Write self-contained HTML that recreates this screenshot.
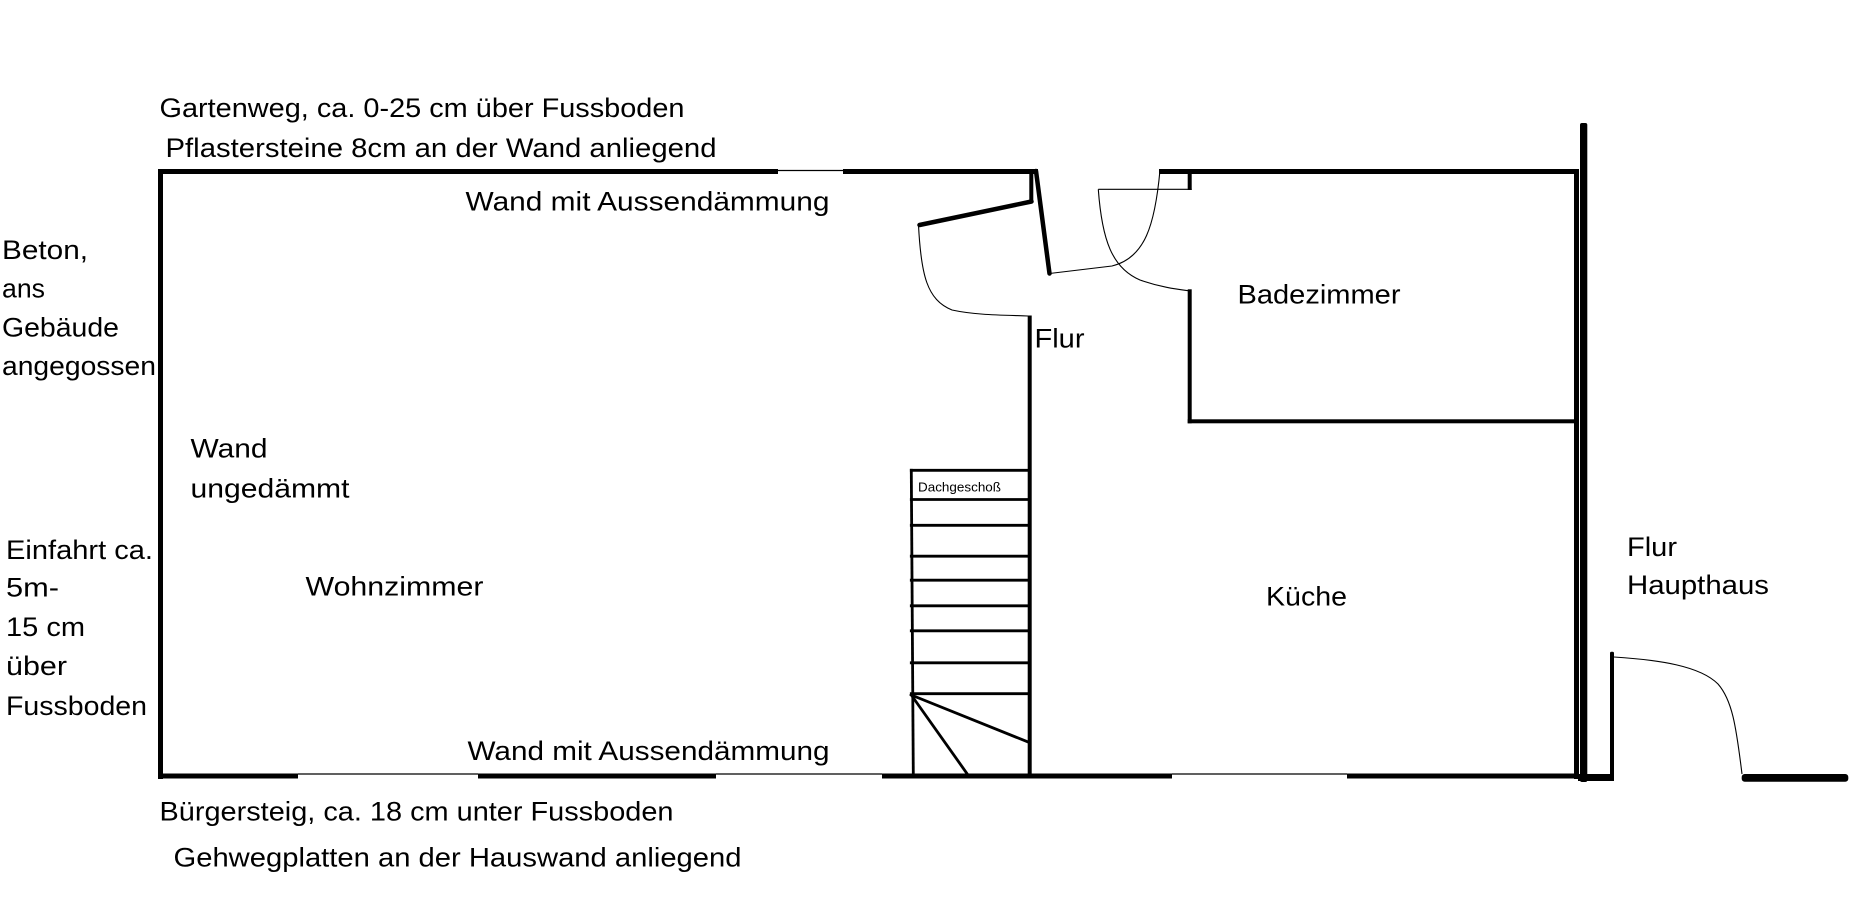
<!DOCTYPE html>
<html>
<head>
<meta charset="utf-8">
<style>
html,body{margin:0;padding:0;background:#fff;}
svg{display:block;}
text{font-family:"Liberation Sans",Arial,sans-serif;font-size:27px;fill:#000;}
</style>
</head>
<body>
<svg width="1850" height="902" viewBox="0 0 1850 902" xmlns="http://www.w3.org/2000/svg">
<rect x="0" y="0" width="1850" height="902" fill="#fff"/>

<!-- Outer walls -->
<!-- top wall -->
<rect x="158" y="169" width="620" height="5" fill="#000"/>
<line x1="778" y1="170.5" x2="843" y2="170.5" stroke="#000" stroke-width="1.2"/>
<rect x="843" y="169" width="195" height="5" fill="#000"/>
<rect x="1159" y="169" width="420" height="5" fill="#000"/>
<!-- left wall -->
<rect x="158" y="169" width="5" height="610" fill="#000"/>
<!-- bottom wall -->
<rect x="158" y="773.5" width="140" height="5" fill="#000"/>
<line x1="298" y1="774" x2="478" y2="774" stroke="#000" stroke-width="1.2"/>
<rect x="478" y="773.5" width="238" height="5" fill="#000"/>
<line x1="716" y1="774" x2="882" y2="774" stroke="#000" stroke-width="1.2"/>
<rect x="882" y="773.5" width="290" height="5" fill="#000"/>
<line x1="1172" y1="774" x2="1347" y2="774" stroke="#000" stroke-width="1.2"/>
<rect x="1347" y="773.5" width="232" height="5" fill="#000"/>

<!-- door area near Flur -->
<rect x="1029.3" y="169" width="4" height="33" fill="#000"/>
<line x1="1031.5" y1="201.5" x2="919.5" y2="225" stroke="#000" stroke-width="4.5" stroke-linecap="round"/>
<line x1="1036" y1="171" x2="1049.5" y2="273.5" stroke="#000" stroke-width="4.5" stroke-linecap="round"/>
<path d="M918.5,225 C921,275 927,300 952,310 C975,315 1000,315 1028,316" fill="none" stroke="#000" stroke-width="1.1"/>
<path d="M1049.5,273.5 L1112,266 C1145,258 1155,225 1160,170" fill="none" stroke="#000" stroke-width="1.1"/>

<!-- Flur wall -->
<rect x="1027.7" y="315.5" width="4" height="460" fill="#000"/>

<!-- bathroom -->
<rect x="1187.7" y="169" width="4" height="21" fill="#000"/>
<line x1="1098.3" y1="189.3" x2="1191.7" y2="189.3" stroke="#000" stroke-width="1.1"/>
<path d="M1098.3,189.3 C1102,240 1112,268 1140,280 C1160,287 1175,289 1188,290.7" fill="none" stroke="#000" stroke-width="1.1"/>
<rect x="1187.7" y="289.3" width="4" height="134" fill="#000"/>
<rect x="1187.7" y="419.3" width="390" height="4" fill="#000"/>

<!-- right walls -->
<rect x="1574" y="169" width="5" height="610" fill="#000"/>
<rect x="1580" y="123" width="7.3" height="659" rx="2" fill="#000"/>
<rect x="1578" y="774" width="36" height="7" fill="#000"/>
<rect x="1610" y="651.7" width="4" height="129" rx="1.5" fill="#000"/>
<path d="M1614,657 C1660,660 1700,666 1718,684 C1732,700 1736,725 1742,774" fill="none" stroke="#000" stroke-width="1.1"/>
<rect x="1741.7" y="774" width="106.6" height="7.7" rx="3" fill="#000"/>

<!-- stairs -->
<g stroke="#000" stroke-width="2.8" stroke-linecap="square">
<line x1="911.3" y1="470.3" x2="913.3" y2="775"/>
<line x1="911.3" y1="470.3" x2="1029" y2="470.3"/>
<line x1="911.3" y1="499.5" x2="1029" y2="499.5"/>
<line x1="911.3" y1="525.3" x2="1029" y2="525.3"/>
<line x1="911.3" y1="556.2" x2="1029" y2="556.2"/>
<line x1="911.3" y1="580.2" x2="1029" y2="580.2"/>
<line x1="911.3" y1="605.8" x2="1029" y2="605.8"/>
<line x1="911.3" y1="630.8" x2="1029" y2="630.8"/>
<line x1="911.3" y1="662.8" x2="1029" y2="662.8"/>
<line x1="911.3" y1="693.7" x2="1029" y2="693.7"/>
<line x1="911.3" y1="695" x2="1027.3" y2="741.7"/>
<line x1="911.3" y1="695" x2="967.3" y2="774"/>
</g>
<text x="918" y="491.7" style="font-size:12.5px" textLength="83" lengthAdjust="spacingAndGlyphs">Dachgeschoß</text>

<!-- labels -->
<text x="159.5" y="117" textLength="525" lengthAdjust="spacingAndGlyphs">Gartenweg, ca. 0-25 cm über Fussboden</text>
<text x="165.5" y="157" textLength="551" lengthAdjust="spacingAndGlyphs">Pflastersteine 8cm an der Wand anliegend</text>
<text x="465.5" y="210.7" textLength="364" lengthAdjust="spacingAndGlyphs">Wand mit Aussendämmung</text>

<text x="2" y="259" textLength="86" lengthAdjust="spacingAndGlyphs">Beton,</text>
<text x="2" y="297.7" textLength="43" lengthAdjust="spacingAndGlyphs">ans</text>
<text x="2" y="336.7" textLength="117" lengthAdjust="spacingAndGlyphs">Gebäude</text>
<text x="2" y="375" textLength="154" lengthAdjust="spacingAndGlyphs">angegossen</text>

<text x="190.5" y="457.3" textLength="77" lengthAdjust="spacingAndGlyphs">Wand</text>
<text x="190.5" y="497.7" textLength="159" lengthAdjust="spacingAndGlyphs">ungedämmt</text>

<text x="6" y="559" textLength="147" lengthAdjust="spacingAndGlyphs">Einfahrt ca.</text>
<text x="6" y="596.7" textLength="53" lengthAdjust="spacingAndGlyphs">5m-</text>
<text x="6" y="636" textLength="79" lengthAdjust="spacingAndGlyphs">15 cm</text>
<text x="6" y="675" textLength="61" lengthAdjust="spacingAndGlyphs">über</text>
<text x="6" y="715" textLength="141" lengthAdjust="spacingAndGlyphs">Fussboden</text>

<text x="305.5" y="595.7" textLength="178" lengthAdjust="spacingAndGlyphs">Wohnzimmer</text>
<text x="467.5" y="760" textLength="362" lengthAdjust="spacingAndGlyphs">Wand mit Aussendämmung</text>

<text x="159.5" y="820.7" textLength="514" lengthAdjust="spacingAndGlyphs">Bürgersteig, ca. 18 cm unter Fussboden</text>
<text x="173.5" y="866.7" textLength="568" lengthAdjust="spacingAndGlyphs">Gehwegplatten an der Hauswand anliegend</text>

<text x="1037.5" y="303.3" textLength="163" lengthAdjust="spacingAndGlyphs" transform="translate(200,0)">Badezimmer</text>
<text x="1034.5" y="347.3" textLength="50" lengthAdjust="spacingAndGlyphs">Flur</text>
<text x="1266" y="605.7" textLength="81" lengthAdjust="spacingAndGlyphs">Küche</text>
<text x="1627" y="556" textLength="50" lengthAdjust="spacingAndGlyphs">Flur</text>
<text x="1627" y="594" textLength="142" lengthAdjust="spacingAndGlyphs">Haupthaus</text>
</svg>
</body>
</html>
